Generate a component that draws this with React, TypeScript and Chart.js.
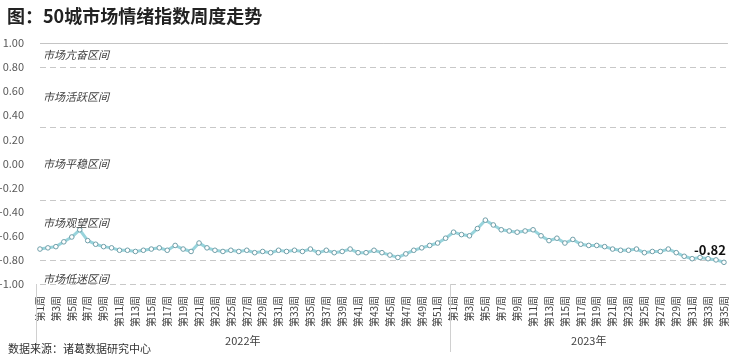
import React, { useEffect, useRef } from "react";
import { Chart, registerables } from "chart.js";

Chart.register(...registerables);

const FONT = "'Noto Sans CJK SC', 'Noto Sans', sans-serif";

const weeks2022: number[] = Array.from({ length: 52 }, (_, i) => i + 1);
const weeks2023: number[] = Array.from({ length: 35 }, (_, i) => i + 1);

const values2022: number[] = [
  -0.71, -0.70, -0.69, -0.65, -0.61, -0.55, -0.64, -0.67, -0.69, -0.70,
  -0.72, -0.72, -0.73, -0.72, -0.71, -0.70, -0.72, -0.68, -0.71, -0.73,
  -0.66, -0.70, -0.72, -0.73, -0.72, -0.73, -0.72, -0.74, -0.73, -0.74,
  -0.72, -0.73, -0.72, -0.73, -0.71, -0.74, -0.72, -0.74, -0.73, -0.71,
  -0.74, -0.74, -0.72, -0.74, -0.76, -0.78, -0.75, -0.72, -0.70, -0.68,
  -0.66, -0.62,
];
const values2023: number[] = [
  -0.57, -0.59, -0.60, -0.54, -0.47, -0.51, -0.55, -0.56, -0.57, -0.56,
  -0.55, -0.60, -0.64, -0.62, -0.66, -0.63, -0.67, -0.68, -0.68, -0.69,
  -0.71, -0.72, -0.72, -0.71, -0.74, -0.73, -0.73, -0.71, -0.74, -0.77,
  -0.79, -0.78, -0.79, -0.80, -0.82,
];

const years: string[] = ["2022年", "2023年"];
const zoneNames: string[] = ["市场亢奋区间", "市场活跃区间", "市场平稳区间", "市场观望区间", "市场低迷区间"];
const zoneBounds: number[] = [1.0, 0.8, 0.3, -0.3, -0.8, -1.0];
const titleText = "图：50城市场情绪指数周度走势";
const sourceText = "数据来源：诸葛数据研究中心";

const labels: string[] = [
  ...weeks2022.map((w) => `第${w}周`),
  ...weeks2023.map((w) => `第${w}周`),
];
const values: number[] = [...values2022, ...values2023];

const decorPlugin = {
  id: "decor",
  beforeDatasetsDraw(chart: any) {
    const { ctx, chartArea, scales } = chart;
    const y = scales.y;
    ctx.save();
    zoneBounds.forEach((b, i) => {
      const py = Math.round(y.getPixelForValue(b)) + 0.5;
      ctx.beginPath();
      ctx.lineWidth = 1;
      if (i === 0) {
        ctx.setLineDash([]);
        ctx.strokeStyle = "#c4c4c4";
      } else {
        ctx.setLineDash([6, 4]);
        ctx.strokeStyle = "#c8c8c8";
      }
      ctx.moveTo(chartArea.left + 4, py);
      ctx.lineTo(chartArea.right, py);
      ctx.stroke();
    });
    ctx.restore();
  },
  afterDraw(chart: any) {
    const { ctx, chartArea, scales } = chart;
    const x = scales.x;
    const y = scales.y;
    ctx.save();
    // title
    ctx.fillStyle = "#222";
    ctx.font = `bold 18px ${FONT}`;
    ctx.textAlign = "left";
    ctx.textBaseline = "middle";
    ctx.fillText(titleText, 7, 16);

    // zone labels
    const offsets = [0, 0, 0, 7, -7];
    ctx.font = `italic 11px ${FONT}`;
    ctx.fillStyle = "#404040";
    zoneNames.forEach((n, i) => {
      const mid = (zoneBounds[i] + zoneBounds[i + 1]) / 2;
      const py = y.getPixelForValue(mid) + (i === 3 ? -7 : i === 4 ? 7 : 0);
      ctx.fillText(n, chartArea.left + 7, py);
    });

    // separators & year labels
    const n1 = weeks2022.length;
    const total = labels.length;
    const step = x.getPixelForValue(1) - x.getPixelForValue(0);
    const leftEdge = x.getPixelForValue(0) - step / 2;
    const midEdge = x.getPixelForValue(n1) - step / 2;
    const rightEdge = x.getPixelForValue(total - 1) + step / 2;
    ctx.strokeStyle = "#d0d0d0";
    ctx.lineWidth = 1;
    [leftEdge, midEdge].forEach((ex) => {
      ctx.beginPath();
      ctx.moveTo(Math.round(ex) + 0.5, chartArea.bottom);
      ctx.lineTo(Math.round(ex) + 0.5, chartArea.bottom + 68);
      ctx.stroke();
    });
    ctx.font = `11px ${FONT}`;
    ctx.fillStyle = "#404040";
    ctx.textAlign = "center";
    ctx.fillText(years[0], (leftEdge + midEdge) / 2, chartArea.bottom + 57);
    ctx.fillText(years[1], (midEdge + rightEdge) / 2, chartArea.bottom + 57);

    // source
    ctx.textAlign = "left";
    ctx.fillStyle = "#333";
    ctx.fillText(sourceText, 8, chartArea.bottom + 65);

    // end label
    const meta = chart.getDatasetMeta(0);
    const last = meta.data[meta.data.length - 1];
    ctx.font = `bold 13px ${FONT}`;
    ctx.fillStyle = "#111";
    ctx.textAlign = "right";
    ctx.fillText(values[values.length - 1].toFixed(2), last.x + 2, last.y - 12);
    ctx.restore();
  },
};

export default function App() {
  const ref = useRef<HTMLCanvasElement | null>(null);
  useEffect(() => {
    document.body.style.margin = "0";
    const c = ref.current;
    if (!c) return;
    const chart = new Chart(c, {
      type: "line",
      data: {
        labels,
        datasets: [
          {
            data: values,
            borderColor: "#98d4dc",
            borderWidth: 3,
            pointRadius: 2.3,
            pointBorderWidth: 1,
            pointBorderColor: "#6f9ea8",
            pointBackgroundColor: "#ffffff",
            tension: 0,
          },
        ],
      },
      options: {
        animation: false,
        responsive: false,
        maintainAspectRatio: false,
        layout: { padding: { top: 43, right: 8, left: 0, bottom: 0 } },
        plugins: { legend: { display: false }, tooltip: { enabled: false }, title: { display: false } },
        scales: {
          x: {
            type: "category",
            offset: true,
            grid: { display: false },
            border: { display: false },
            ticks: {
              autoSkip: false,
              minRotation: 90,
              maxRotation: 90,
              padding: 4,
              color: "#404040",
              font: { size: 10, family: FONT },
              callback: (_v: any, i: number) => (i % 2 === 0 ? labels[i] : ""),
            },
            afterFit: (s: any) => {
              s.height = 79;
            },
          },
          y: {
            min: -1,
            max: 1,
            grid: { display: false },
            border: { display: false },
            ticks: {
              stepSize: 0.2,
              padding: 4,
              color: "#595959",
              font: { size: 11, family: FONT },
              callback: (v: any) => (Math.abs(v) < 1e-9 ? "0.00" : Number(v).toFixed(2)),
            },
            afterFit: (s: any) => {
              s.width = 36;
            },
          },
        },
      },
      plugins: [decorPlugin],
    });
    return () => chart.destroy();
  }, []);
  return (
    <div style={{ width: 740, height: 363, position: "relative" }}>
      <canvas ref={ref} width={740} height={363} style={{ display: "block" }} />
    </div>
  );
}
